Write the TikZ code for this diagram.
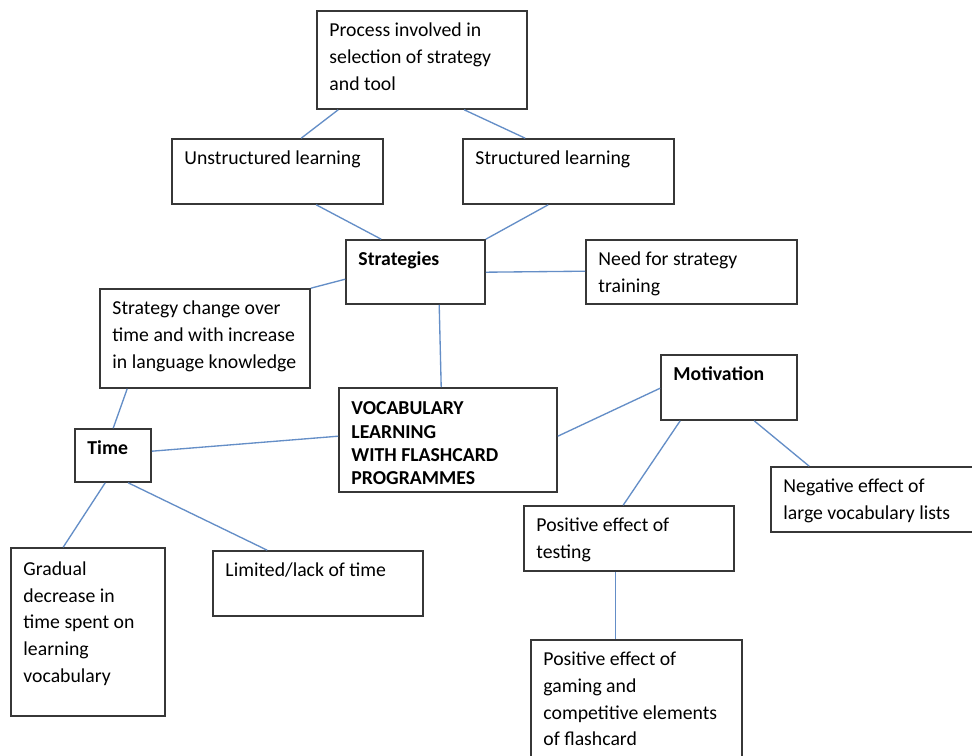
\documentclass[tikz,border=0pt]{standalone}
\usepackage{fontspec}
\setmainfont{Carlito}
\usetikzlibrary{calc}
\definecolor{lineblue}{RGB}{100,142,199}
\definecolor{boxc}{RGB}{55,55,55}
\tikzset{
  boxn/.style={draw=boxc, line width=1.2pt, inner sep=0pt, rectangle},
  txt/.style={font=\fontsize{14.8}{20}\selectfont, align=left, inner sep=0pt, anchor=north west, text=black},
  btxt/.style={font=\fontsize{14.8}{20}\selectfont\bfseries, align=left, inner sep=0pt, anchor=north west, text=black},
  vtxt/.style={font=\fontsize{14.8}{17.5}\selectfont\bfseries, align=left, inner sep=0pt, anchor=north west, text=black},
  link/.style={draw=lineblue, line width=1pt},
}
% name, x1, y1, x2, y2, text style, y offset, text
\newcommand\mkbox[8]{%
  \node[boxn, minimum width={(#4-#2)*0.75pt}, minimum height={(#5-#3)*0.75pt}] (#1) at ({(#2+#4)/2},{(#3+#5)/2}) {};
  \node[#6] (#1t) at ($(#1.north west)+(13,#7)$) {\strut #8};
}
\begin{document}
\begin{tikzpicture}[x=0.75pt,y=-0.75pt]
\fill[white] (0,0) rectangle (972,756);
\useasboundingbox (0,0) rectangle (972,756);

\mkbox{proc}{317}{11}{527}{109}{txt}{7.8}{Process involved in\\selection of strategy\\and tool}
\mkbox{unst}{172}{139}{383}{204}{txt}{7.8}{Unstructured learning}
\mkbox{stru}{463}{139}{674}{204}{txt}{7.8}{Structured learning}
\mkbox{strat}{346}{240}{485}{304}{btxt}{7.8}{Strategies}
\mkbox{need}{586}{240}{797}{304}{txt}{7.8}{Need for strategy\\training}
\mkbox{chg}{100}{289}{310}{388}{txt}{7.8}{Strategy change over\\time and with increase\\in language knowledge}
\mkbox{vocab}{339}{388}{557}{492}{vtxt}{11}{VOCABULARY\\LEARNING\\WITH FLASHCARD\\PROGRAMMES}
\mkbox{mot}{661}{355}{797}{420}{btxt}{7.8}{Motivation}
\mkbox{time}{75}{429}{151}{482}{btxt}{7.8}{Time}
\mkbox{neg}{771}{467}{985}{532}{txt}{7.8}{Negative effect of\\large vocabulary lists}
\mkbox{test}{524}{506}{734}{571}{txt}{7.8}{Positive effect of\\testing}
\mkbox{game}{531}{640}{742}{790}{txt}{7.8}{Positive effect of\\gaming and\\competitive elements\\of flashcard}
\mkbox{grad}{11}{548}{165}{716}{txt}{9.5}{Gradual\\decrease in\\time spent on\\learning\\vocabulary}
\mkbox{lim}{213}{551}{423}{616}{txt}{7.8}{Limited/lack of time}

\draw[link] ($(proc.south west)+(22,0)$) -- ($(unst.north west)+(130,0)$);
\draw[link] ($(proc.south west)+(148,0)$) -- ($(stru.north west)+(63,0)$);
\draw[link] ($(unst.south west)+(145,0)$) -- ($(strat.north west)+(36,0)$);
\draw[link] ($(stru.south west)+(86,0)$) -- (strat.north east);
\draw[link] ($(strat.north east)+(0,33)$) -- ($(need.north west)+(0,32)$);
\draw[link] ($(strat.north west)+(0,40)$) -- (chg.north east);
\draw[link] ($(strat.south west)+(94,0)$) -- ($(vocab.north west)+(103,0)$);
\draw[link] ($(time.north west)+(39,0)$) -- ($(chg.south west)+(28,0)$);
\draw[link] ($(time.north east)+(0,23)$) -- ($(vocab.north west)+(0,49)$);
\draw[link] ($(time.south west)+(31,0)$) -- ($(grad.north west)+(53,0)$);
\draw[link] ($(time.south west)+(54,0)$) -- ($(lim.north west)+(55,0)$);
\draw[link] ($(vocab.north east)+(0,49)$) -- ($(mot.north west)+(0,34)$);
\draw[link] ($(mot.south west)+(20,0)$) -- ($(test.north west)+(100,0)$);
\draw[link] ($(mot.south west)+(94,0)$) -- ($(neg.north west)+(39,0)$);
\draw[link] ($(test.south west)+(92.3,0)$) -- ($(game.north west)+(85.3,0)$);
\end{tikzpicture}
\end{document}
